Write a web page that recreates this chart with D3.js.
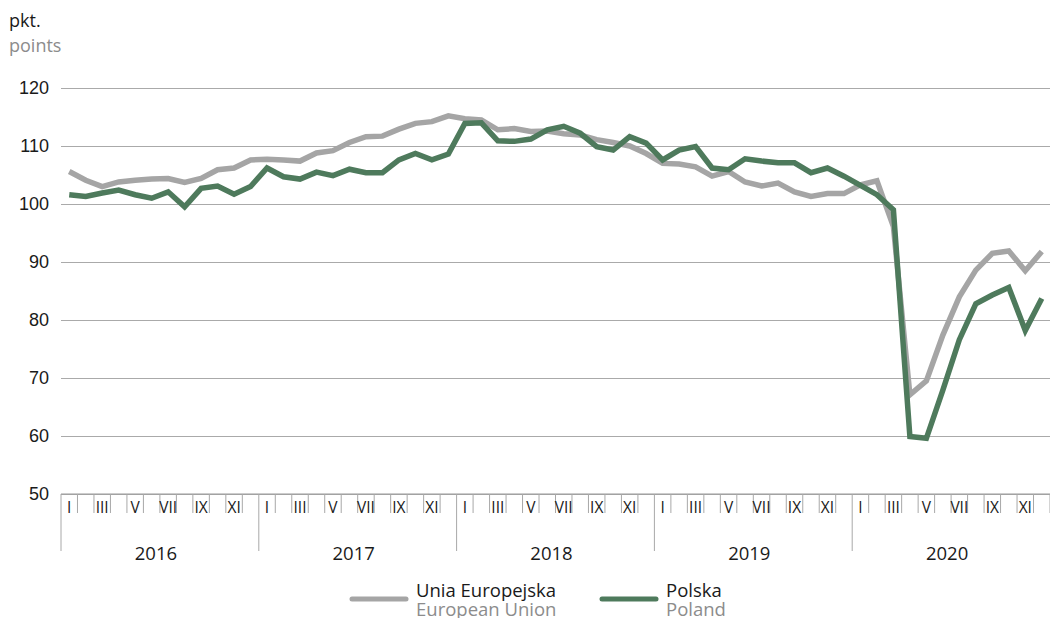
<!DOCTYPE html>
<html>
<head>
<meta charset="utf-8">
<script src="https://cdn.jsdelivr.net/npm/d3@7"></script>
<style>
  body { margin: 0; background: white; }
  svg { font-family: "Open Sans", "Noto Sans", sans-serif; }
</style>
</head>
<body>
<svg id="chart" width="1050" height="618"></svg>
<script>
// dane
const years = ['2016', '2017', '2018', '2019', '2020']
const monthNames = ['I', 'II', 'III', 'IV', 'V', 'VI', 'VII', 'VIII', 'IX', 'X', 'XI', 'XII']
const yTicks = [50, 60, 70, 80, 90, 100, 110, 120]

const euValues = [
  105.6, 104.1, 103.0, 103.8, 104.1, 104.3, 104.4, 103.7, 104.4, 105.9, 106.2, 107.6,
  107.7, 107.6, 107.4, 108.8, 109.2, 110.6, 111.6, 111.7, 112.9, 113.9, 114.2, 115.2,
  114.7, 114.5, 112.8, 113.0, 112.5, 112.6, 112.1, 111.9, 111.1, 110.6, 110.0, 108.7,
  107.0, 106.9, 106.4, 104.8, 105.6, 103.8, 103.1, 103.6, 102.1, 101.3, 101.8, 101.8,
  103.3, 104.0, 96.1, 67.1, 69.5, 77.4, 84.0, 88.6, 91.5, 91.9, 88.5, 91.8
]
const plValues = [
  101.6, 101.3, 101.9, 102.4, 101.6, 101.0, 102.1, 99.5, 102.7, 103.1, 101.7, 103.0,
  106.2, 104.7, 104.3, 105.5, 104.9, 106.0, 105.4, 105.4, 107.6, 108.7, 107.6, 108.6,
  113.9, 114.0, 110.9, 110.8, 111.2, 112.8, 113.4, 112.2, 109.9, 109.3, 111.6, 110.5,
  107.6, 109.3, 109.9, 106.2, 105.9, 107.8, 107.4, 107.1, 107.1, 105.4, 106.2, 104.8,
  103.2, 101.6, 99.0, 59.9, 59.6, 67.9, 76.6, 82.8, 84.3, 85.6, 78.2, 83.7
]

const series = [
  { pl: 'Unia Europejska', en: 'European Union', values: euValues, color: '#a5a5a5' },
  { pl: 'Polska', en: 'Poland', values: plValues, color: '#4e7a5c' }
]

// miesiace: klucz rok-miesiac
const months = []
years.forEach(y => monthNames.forEach((m, i) => months.push({ key: y + '-' + i, year: y, m: m, idx: i })))

const svg = d3.select('#chart')
const margin = { top: 88, left: 61, right: 0, bottom: 124 }
const width = +svg.attr('width')
const height = +svg.attr('height')
const innerWidth = width - margin.left - margin.right
const innerHeight = height - margin.top - margin.bottom

const g = svg.append('g').attr('transform', `translate(${margin.left}, ${margin.top})`)

const xScale = d3.scaleBand()
  .domain(months.map(d => d.key))
  .range([0, innerWidth])
  .padding(0)

const yScale = d3.scaleLinear()
  .domain([50, 120])
  .range([innerHeight, 0])

// os Y z liniami siatki
const yAxis = g.append('g')
  .call(d3.axisLeft(yScale).tickValues(yTicks).tickSize(-innerWidth).tickPadding(12))
yAxis.select('.domain').remove()
yAxis.selectAll('.tick line').attr('stroke', '#aaaaaa').attr('stroke-width', 1.2)
yAxis.selectAll('.tick text').attr('font-size', 18).attr('fill', '#1a1a1a')

// os X
const xAxisG = g.append('g').attr('transform', `translate(0, ${innerHeight})`)
xAxisG.append('line')
  .attr('x1', 0).attr('x2', innerWidth)
  .attr('stroke', '#9a9a9a').attr('stroke-width', 1.2)

// kreski miesiecy (granice)
xAxisG.selectAll('.mtick').data(months)
  .enter().append('line')
    .attr('class', 'mtick')
    .attr('x1', d => xScale(d.key)).attr('x2', d => xScale(d.key))
    .attr('y1', 0)
    .attr('y2', d => d.idx === 0 ? 57 : 19)
    .attr('stroke', '#a8a8a8').attr('stroke-width', 1)

xAxisG.append('line')
  .attr('x1', innerWidth).attr('x2', innerWidth)
  .attr('y1', 0).attr('y2', 19)
  .attr('stroke', '#a8a8a8')

// etykiety miesiecy (nieparzyste)
xAxisG.selectAll('.mlabel').data(months.filter(d => d.idx % 2 === 0))
  .enter().append('text')
    .attr('class', 'mlabel')
    .attr('x', d => xScale(d.key) + xScale.bandwidth() / 2)
    .attr('y', 19)
    .attr('text-anchor', 'middle')
    .attr('font-size', 15.5)
    .attr('fill', '#1a1a1a')
    .text(d => d.m)

// etykiety lat
xAxisG.selectAll('.ylabel').data(years)
  .enter().append('text')
    .attr('class', 'ylabel')
    .attr('x', d => xScale(d + '-0') + 6 * xScale.bandwidth() - 4)
    .attr('y', 66)
    .attr('text-anchor', 'middle')
    .attr('font-size', 18.5)
    .attr('fill', '#1a1a1a')
    .text(d => d)

// linie
const line = d3.line()
  .x((d, i) => xScale(months[i].key) + xScale.bandwidth() / 2)
  .y(d => yScale(d))

g.selectAll('.series').data(series)
  .enter().append('path')
    .attr('class', 'series')
    .attr('d', d => line(d.values))
    .attr('fill', 'none')
    .attr('stroke', d => d.color)
    .attr('stroke-width', 5.5)
    .attr('stroke-linejoin', 'miter')

// jednostka
svg.append('text').attr('x', 9).attr('y', 27).attr('font-size', 18).attr('fill', '#1a1a1a').text('pkt.')
svg.append('text').attr('x', 9).attr('y', 52).attr('font-size', 18).attr('fill', '#8c8c8c').text('points')

// legenda
const legend = svg.append('g')
const legendX = [352, 602]
series.forEach((s, i) => {
  const lg = legend.append('g').attr('transform', `translate(${legendX[i]}, 0)`)
  lg.append('line')
    .attr('x1', 0).attr('x2', 54).attr('y1', 599).attr('y2', 599)
    .attr('stroke', s.color).attr('stroke-width', 5).attr('stroke-linecap', 'round')
  lg.append('text').attr('x', 64).attr('y', 597).attr('font-size', 18.5).attr('fill', '#1a1a1a').text(s.pl)
  lg.append('text').attr('x', 64).attr('y', 616).attr('font-size', 18.5).attr('fill', '#8c8c8c').text(s.en)
})
</script>
</body>
</html>
